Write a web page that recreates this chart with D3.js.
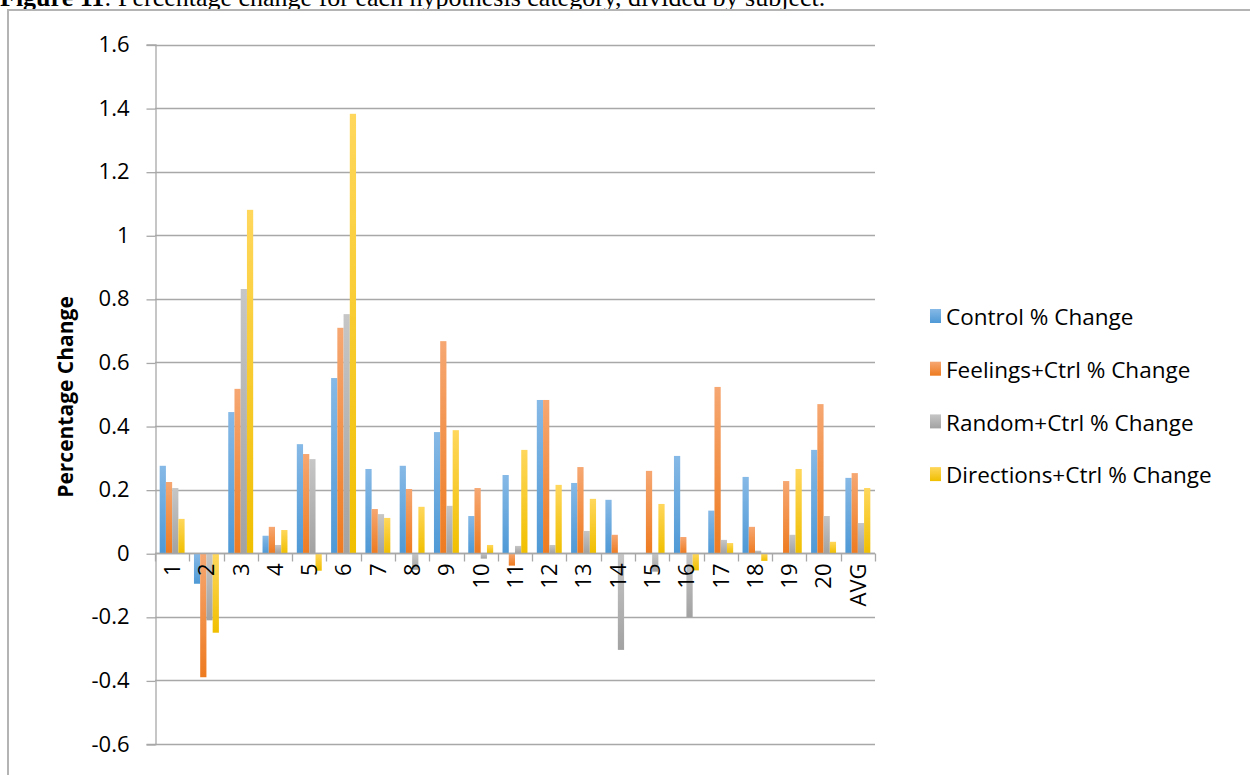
<!DOCTYPE html>
<html>
<head>
<meta charset="utf-8">
<script src="https://cdn.jsdelivr.net/npm/d3@7"></script>
<style>
  html, body { margin: 0; padding: 0; background: #fff; }
  svg { display: block; }
</style>
</head>
<body>
<svg id="chart" width="1250" height="775"></svg>
<script>
// Subjects plus the overall average
const categories = ["1","2","3","4","5","6","7","8","9","10","11","12","13","14","15","16","17","18","19","20","AVG"];

const seriesNames = [
  "Control % Change",
  "Feelings+Ctrl % Change",
  "Random+Ctrl % Change",
  "Directions+Ctrl % Change"
];

const controlChange    = [0.275, -0.096, 0.444, 0.055, 0.343, 0.551, 0.265, 0.275, 0.381, 0.117, 0.246, 0.482, 0.221, 0.168, 0, 0.306, 0.134, 0.240, 0, 0.325, 0.237];
const feelingsChange   = [0.224, -0.390, 0.517, 0.083, 0.312, 0.709, 0.139, 0.202, 0.667, 0.205, -0.039, 0.482, 0.271, 0.058, 0.259, 0.051, 0.523, 0.083, 0.227, 0.469, 0.252];
const randomChange     = [0.205, -0.211, 0.831, 0.026, 0.296, 0.752, 0.123, -0.052, 0.149, -0.017, 0.023, 0.026, 0.070, -0.304, -0.058, -0.201, 0.042, 0.008, 0.058, 0.117, 0.095];
const directionsChange = [0.108, -0.250, 1.080, 0.073, -0.055, 1.382, 0.111, 0.146, 0.387, 0.026, 0.325, 0.215, 0.171, 0, 0.155, -0.054, 0.032, -0.024, 0.265, 0.036, 0.205];

const yTicks = [-0.6, -0.4, -0.2, 0, 0.2, 0.4, 0.6, 0.8, 1, 1.2, 1.4, 1.6];
const yTickLabels = ["-0.6", "-0.4", "-0.2", "0", "0.2", "0.4", "0.6", "0.8", "1", "1.2", "1.4", "1.6"];

const seriesValues = [controlChange, feelingsChange, randomChange, directionsChange];

// Two-tone fills, lighter at the top of each bar
const fills = [
  { top: "#86b9e6", bottom: "#4e99d6" },
  { top: "#f6a772", bottom: "#ee7b20" },
  { top: "#c6c6c6", bottom: "#a2a2a2" },
  { top: "#ffd75c", bottom: "#f0bf00" }
];

const svg = d3.select("#chart");
const defs = svg.append("defs");
fills.forEach((f, i) => {
  const g = defs.append("linearGradient")
    .attr("id", "grad" + i)
    .attr("x1", 0).attr("y1", 0).attr("x2", 0).attr("y2", 1);
  g.append("stop").attr("offset", "0%").attr("stop-color", f.top);
  g.append("stop").attr("offset", "100%").attr("stop-color", f.bottom);
});

const font = "'Open Sans', 'DejaVu Sans', sans-serif";
const gridColor = "#a8a8a8";

// Caption above the chart frame
const caption = svg.append("text")
  .attr("x", 0).attr("y", 6)
  .attr("font-family", "'Liberation Serif', 'Times New Roman', serif")
  .attr("font-size", 26)
  .attr("fill", "#000");
caption.append("tspan").attr("font-weight", "bold").text("Figure 11");
caption.append("tspan").text(": Percentage change for each hypothesis category, divided by subject.");

// Chart area frame
svg.append("rect")
  .attr("x", 8).attr("y", 10)
  .attr("width", 1300).attr("height", 820)
  .attr("fill", "none")
  .attr("stroke", "#b4b4b4")
  .attr("stroke-width", 2);

const plot = { left: 155, right: 875, top: 44.5, bottom: 744 };

const x0 = d3.scaleBand()
  .domain(categories)
  .range([plot.left, plot.right])
  .paddingInner(0).paddingOuter(0);

const x1 = d3.scaleBand()
  .domain(d3.range(seriesNames.length))
  .range([0, x0.bandwidth()])
  .paddingInner(0).paddingOuter(0.75);

const y = d3.scaleLinear()
  .domain([-0.6, 1.6])
  .range([plot.bottom, plot.top]);

// Horizontal gridlines
svg.append("g")
  .selectAll("line")
  .data(yTicks)
  .join("line")
  .attr("x1", plot.left).attr("x2", plot.right)
  .attr("y1", d => Math.round(y(d)) + 0.5).attr("y2", d => Math.round(y(d)) + 0.5)
  .attr("stroke", gridColor)
  .attr("stroke-width", 1.3);

// Y axis
const yAxis = d3.axisLeft(y)
  .tickValues(yTicks)
  .tickSize(9)
  .tickPadding(17)
  .tickFormat((d, i) => yTickLabels[i]);

const yg = svg.append("g")
  .attr("transform", `translate(${plot.left + 0.5},0)`)
  .call(yAxis);
yg.select(".domain").attr("stroke", gridColor).attr("stroke-width", 1.3);
yg.selectAll(".tick line").attr("stroke", gridColor).attr("stroke-width", 1.3)
  .attr("transform", "translate(0,0.5)");
yg.selectAll(".tick text")
  .attr("font-family", font)
  .attr("font-size", 22)
  .attr("fill", "#000");

// Bars
const groups = svg.append("g")
  .selectAll("g")
  .data(categories)
  .join("g")
  .attr("transform", d => `translate(${x0(d)},0)`);

groups.selectAll("rect")
  .data((c, ci) => seriesValues.map((vals, si) => ({ si, v: vals[ci] })))
  .join("rect")
  .filter(d => d.v !== 0)
  .attr("x", d => x1(d.si))
  .attr("width", x1.bandwidth())
  .attr("y", d => y(Math.max(0, d.v)))
  .attr("height", d => Math.abs(y(d.v) - y(0)))
  .attr("fill", d => `url(#grad${d.si})`);

// X axis along zero with boundary ticks
const zeroY = Math.round(y(0)) + 0.5;
svg.append("line")
  .attr("x1", plot.left).attr("x2", plot.right)
  .attr("y1", zeroY).attr("y2", zeroY)
  .attr("stroke", gridColor).attr("stroke-width", 1.3);

const boundaries = categories.map(c => x0(c)).concat([plot.right]);
svg.append("g")
  .selectAll("line")
  .data(boundaries)
  .join("line")
  .attr("x1", d => Math.round(d) + 0.5).attr("x2", d => Math.round(d) + 0.5)
  .attr("y1", zeroY).attr("y2", zeroY + 8)
  .attr("stroke", gridColor).attr("stroke-width", 1.3);

// Category labels, rotated to read upward
svg.append("g")
  .selectAll("text")
  .data(categories)
  .join("text")
  .attr("transform", d => `translate(${x0(d) + x0.bandwidth() / 2},${zeroY + 10}) rotate(-90)`)
  .attr("text-anchor", "end")
  .attr("dy", "0.36em")
  .attr("font-family", font)
  .attr("font-size", 22)
  .attr("fill", "#000")
  .text(d => d);

// Y axis title
svg.append("text")
  .attr("transform", `translate(65,397) rotate(-90)`)
  .attr("text-anchor", "middle")
  .attr("dy", "0.36em")
  .attr("font-family", font)
  .attr("font-weight", "bold")
  .attr("font-size", 21)
  .attr("fill", "#000")
  .text("Percentage Change");

// Legend
const legend = svg.append("g")
  .selectAll("g")
  .data(seriesNames)
  .join("g")
  .attr("transform", (d, i) => `translate(930,${317 + i * 52.7})`);

legend.append("rect")
  .attr("x", 0).attr("y", -8)
  .attr("width", 11).attr("height", 14)
  .attr("fill", (d, i) => `url(#grad${i})`);

legend.append("text")
  .attr("x", 16)
  .attr("y", 0)
  .attr("dy", "0.36em")
  .attr("font-family", font)
  .attr("font-size", 22.5)
  .attr("fill", "#000")
  .text(d => d);
</script>
</body>
</html>
